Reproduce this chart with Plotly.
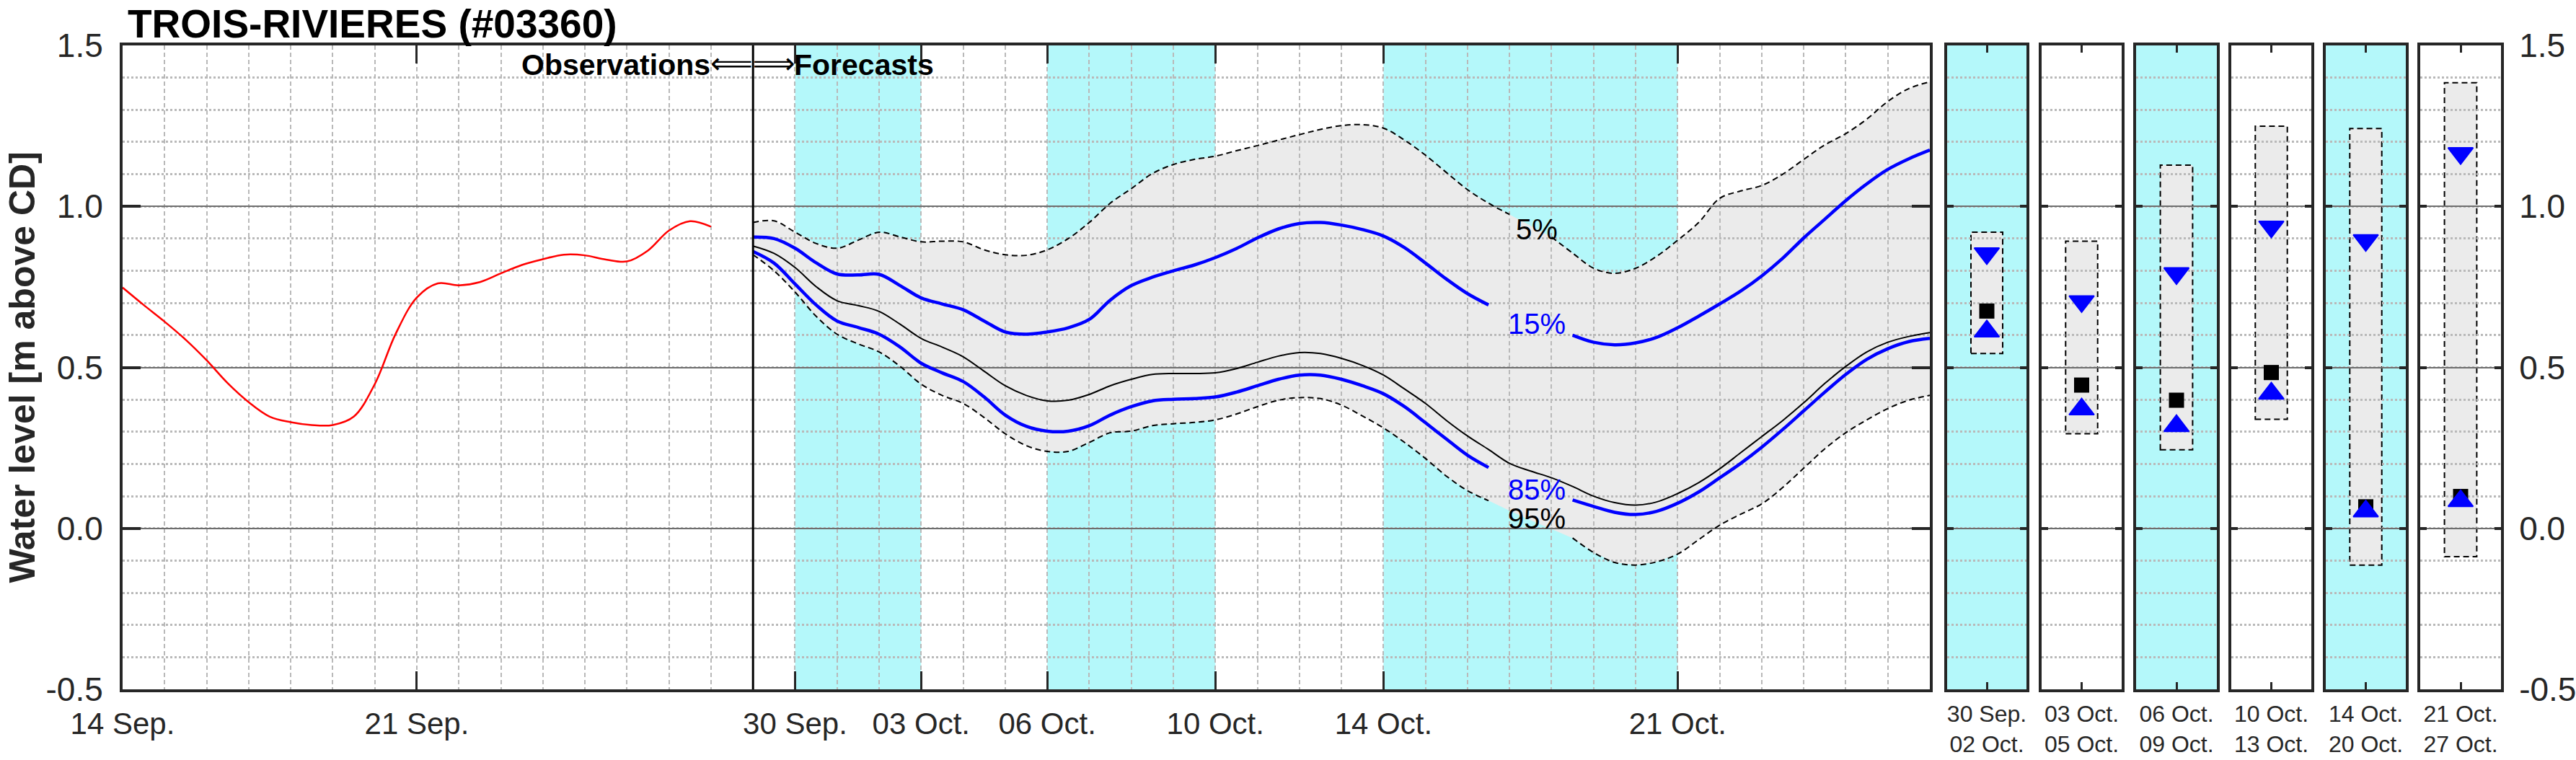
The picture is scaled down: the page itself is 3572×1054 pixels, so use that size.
import pandas as pd
import plotly.graph_objects as go

W, H = 3572, 1054
FONT = "Liberation Sans, Arial, Helvetica, sans-serif"
INK = "#262626"
CYAN = "#b4f8fa"
BAND = "#ebebeb"
GRID_MINOR = "#b9b9b9"
GRID_MAJOR = "#6e6e6e"
BLUE = "#0000ff"

# ---------------- data ----------------
obs_start = "2024-09-14 00:00"          # 12-hourly observations
obs_level = [0.748, 0.694, 0.642, 0.586, 0.522, 0.451, 0.392, 0.347, 0.330, 0.321,
             0.321, 0.347, 0.448, 0.605, 0.717, 0.761, 0.755, 0.765, 0.792, 0.818,
             0.836, 0.850, 0.848, 0.835, 0.829, 0.863, 0.925, 0.954, 0.937]

fc_start = "2024-09-29 00:00"           # 12-hourly forecast percentiles
fc_q05 = [0.950, 0.955, 0.920, 0.885, 0.870, 0.895, 0.920, 0.905, 0.890, 0.892,
          0.890, 0.865, 0.850, 0.848, 0.865, 0.900, 0.950, 1.010, 1.055, 1.102,
          1.130, 1.146, 1.156, 1.173, 1.189, 1.206, 1.223, 1.239, 1.251, 1.254,
          1.243, 1.206, 1.159, 1.105, 1.052, 1.010, 0.975, 0.940, 0.905, 0.855,
          0.808, 0.792, 0.808, 0.845, 0.895, 0.950, 1.025, 1.048, 1.065, 1.100,
          1.146, 1.191, 1.226, 1.271, 1.326, 1.366, 1.387]
fc_q15 = [0.905, 0.900, 0.870, 0.825, 0.790, 0.787, 0.789, 0.754, 0.716, 0.697,
          0.679, 0.644, 0.610, 0.603, 0.610, 0.623, 0.649, 0.709, 0.754, 0.780,
          0.800, 0.818, 0.841, 0.869, 0.902, 0.930, 0.947, 0.950, 0.942, 0.928,
          0.908, 0.872, 0.824, 0.774, 0.729, 0.694, 0.660, 0.630, 0.610, 0.600,
          0.578, 0.570, 0.576, 0.593, 0.623, 0.659, 0.697, 0.737, 0.784, 0.839,
          0.902, 0.960, 1.018, 1.070, 1.115, 1.148, 1.175]
fc_q50 = [0.877, 0.854, 0.810, 0.751, 0.707, 0.692, 0.674, 0.634, 0.590, 0.563,
          0.533, 0.488, 0.443, 0.413, 0.396, 0.398, 0.416, 0.443, 0.463, 0.478,
          0.481, 0.481, 0.483, 0.496, 0.516, 0.535, 0.546, 0.543, 0.528, 0.506,
          0.476, 0.433, 0.388, 0.335, 0.287, 0.245, 0.202, 0.178, 0.157, 0.130,
          0.100, 0.080, 0.072, 0.082, 0.108, 0.142, 0.185, 0.235, 0.285, 0.335,
          0.390, 0.450, 0.503, 0.548, 0.578, 0.596, 0.608]
fc_q85 = [0.860, 0.824, 0.759, 0.694, 0.644, 0.624, 0.603, 0.563, 0.513, 0.483,
          0.456, 0.408, 0.352, 0.317, 0.302, 0.302, 0.319, 0.352, 0.378, 0.396,
          0.401, 0.403, 0.408, 0.423, 0.443, 0.463, 0.476, 0.476, 0.463, 0.443,
          0.418, 0.378, 0.328, 0.277, 0.227, 0.189, 0.150, 0.120, 0.100, 0.088,
          0.068, 0.050, 0.043, 0.053, 0.078, 0.113, 0.157, 0.202, 0.252, 0.307,
          0.365, 0.423, 0.478, 0.525, 0.558, 0.580, 0.590]
fc_q95 = [0.850, 0.800, 0.734, 0.659, 0.603, 0.573, 0.548, 0.503, 0.448, 0.413,
          0.388, 0.344, 0.294, 0.257, 0.239, 0.239, 0.267, 0.297, 0.302, 0.319,
          0.325, 0.329, 0.337, 0.355, 0.378, 0.398, 0.406, 0.403, 0.383, 0.349,
          0.312, 0.267, 0.217, 0.162, 0.117, 0.086, 0.055, 0.025, -0.002, -0.030,
          -0.075, -0.106, -0.114, -0.104, -0.080, -0.035, 0.010, 0.044, 0.076, 0.127,
          0.187, 0.247, 0.297, 0.337, 0.372, 0.398, 0.413]

main_tick_dates = ["2024-09-14", "2024-09-21", "2024-09-30", "2024-10-03",
                   "2024-10-06", "2024-10-10", "2024-10-14", "2024-10-21"]
main_tick_text = ["14 Sep.", "21 Sep.", "30 Sep.", "03 Oct.",
                  "06 Oct.", "10 Oct.", "14 Oct.", "21 Oct."]
shaded_periods = [("2024-09-30", "2024-10-03"), ("2024-10-06", "2024-10-10"),
                  ("2024-10-14", "2024-10-21")]
forecast_origin = "2024-09-29"
x_range = ["2024-09-14", "2024-10-27"]

y_ticks = [-0.5, 0.0, 0.5, 1.0, 1.5]
y_tick_text = ["-0.5", "0.0", "0.5", "1.0", "1.5"]

pct_label_time = "2024-10-17 15:30"
pct_labels = ["5%", "15%", "85%", "95%"]
pct_label_y = [0.93, 0.635, 0.12, 0.03]

panel_labels = ["30 Sep.<br>02 Oct.", "03 Oct.<br>05 Oct.", "06 Oct.<br>09 Oct.",
                "10 Oct.<br>13 Oct.", "14 Oct.<br>20 Oct.", "21 Oct.<br>27 Oct."]
panel_shaded = [True, False, True, False, True, False]
panel_hi = [0.920, 0.892, 1.128, 1.249, 1.242, 1.384]
panel_lo = [0.543, 0.294, 0.244, 0.339, -0.114, -0.088]
panel_q15 = [0.854, 0.705, 0.792, 0.937, 0.895, 1.165]
panel_med = [0.675, 0.445, 0.398, 0.484, 0.067, 0.099]
panel_q85 = [0.612, 0.370, 0.318, 0.419, 0.053, 0.085]

# ---------------- helpers ----------------
obs_time = pd.date_range(obs_start, periods=len(obs_level), freq="12h")
fc_time = pd.date_range(fc_start, periods=len(fc_q05), freq="12h")
lbl_t = pd.Timestamp(pct_label_time)


def gapped(vals, half_days):
    out = []
    for t, v in zip(fc_time, vals):
        d = abs((t - lbl_t).total_seconds()) / 86400.0
        out.append(None if d < half_days else v)
    return out


# layout geometry (pixels)
Y_TOP, Y_BOT = 63, 956
ydom = [(H - Y_BOT) / H, (H - Y_TOP) / H]
main_x = (170, 2676)
panel_px = [(2700, 2810), (2831, 2942), (2962, 3074), (3094, 3205), (3225, 3336), (3356, 3468)]

fig = go.Figure()

# observations
fig.add_trace(go.Scatter(x=obs_time, y=obs_level, mode="lines",
                         line=dict(color="#ff0000", width=2.5, shape="spline"),
                         xaxis="x", yaxis="y", hoverinfo="skip"))
# envelope dashed
for vals, hw in ((fc_q05, 0.3), (fc_q95, 0.8)):
    fig.add_trace(go.Scatter(x=fc_time, y=gapped(vals, hw), mode="lines",
                             line=dict(color="black", width=2, dash="8px,5px", shape="spline"),
                             connectgaps=False, xaxis="x", yaxis="y", hoverinfo="skip"))
# median
fig.add_trace(go.Scatter(x=fc_time, y=fc_q50, mode="lines",
                         line=dict(color="black", width=2, shape="spline"),
                         xaxis="x", yaxis="y", hoverinfo="skip"))
# 15 / 85 %
for vals in (fc_q15, fc_q85):
    fig.add_trace(go.Scatter(x=fc_time, y=gapped(vals, 0.8), mode="lines",
                             line=dict(color=BLUE, width=4.5, shape="spline"),
                             connectgaps=False, xaxis="x", yaxis="y", hoverinfo="skip"))

shapes = []
for a, b in shaded_periods:
    shapes.append(dict(type="rect", xref="x", yref="y domain", x0=a, x1=b, y0=0, y1=1,
                       fillcolor=CYAN, line=dict(width=0), layer="below"))
ms = [int(t.value // 10**6) for t in fc_time]
pts = list(zip(ms, fc_q05)) + list(zip(ms[::-1], fc_q95[::-1]))
path = "M " + " L ".join(f"{x},{y}" for x, y in pts) + " Z"
shapes.append(dict(type="path", xref="x", yref="y", path=path, fillcolor=BAND,
                   line=dict(width=0), layer="below"))
shapes.append(dict(type="line", xref="x", yref="y domain", x0=forecast_origin, x1=forecast_origin,
                   y0=0, y1=1, line=dict(color="black", width=3), layer="above"))

layout = dict(
    width=W, height=H, margin=dict(l=0, r=0, t=0, b=0, pad=0, autoexpand=False),
    paper_bgcolor="white", plot_bgcolor="white", showlegend=False,
    font=dict(family=FONT, color=INK),
)

layout["xaxis"] = dict(
    domain=[main_x[0] / W, main_x[1] / W], type="date", range=x_range, anchor="y",
    automargin=False,
    tickmode="array", tickvals=main_tick_dates, ticktext=main_tick_text,
    ticks="inside", ticklen=25, tickwidth=3, tickcolor=INK, mirror="allticks",
    showline=True, linewidth=4, linecolor=INK, zeroline=False,
    showgrid=True, gridcolor=GRID_MINOR, gridwidth=2, griddash="6px,4px",
    minor=dict(tick0="2024-09-14", dtick=86400000, showgrid=True, gridcolor=GRID_MINOR,
               gridwidth=2, griddash="6px,4px", ticks=""),
    tickfont=dict(size=42, family=FONT, color=INK), ticklabelstandoff=8,
)
ycommon = dict(
    domain=ydom, range=[-0.5, 1.5], tickmode="array", tickvals=y_ticks, ticktext=y_tick_text,
    automargin=False,
    ticks="inside", tickwidth=4, tickcolor=INK, mirror="allticks",
    showline=True, linewidth=4, linecolor=INK, zeroline=False,
    showgrid=True, gridcolor=GRID_MAJOR, gridwidth=2,
    minor=dict(tick0=0, dtick=0.1, showgrid=True, gridcolor=GRID_MINOR, gridwidth=2.5,
               griddash="3px,3px", ticks=""),
    tickfont=dict(size=46, family=FONT, color=INK),
)
layout["yaxis"] = dict(ycommon, anchor="x", ticklen=25, ticklabelstandoff=14)

for i, (px0, px1) in enumerate(panel_px):
    k = i + 2
    layout[f"xaxis{k}"] = dict(
        domain=[px0 / W, px1 / W], range=[0, 1], anchor=f"y{k}", automargin=False,
        tickmode="array", tickvals=[0.5], ticktext=[panel_labels[i]],
        ticks="inside", ticklen=10, tickwidth=3, tickcolor=INK, mirror="allticks",
        showline=True, linewidth=4, linecolor=INK, zeroline=False, showgrid=False,
        tickfont=dict(size=32, family=FONT, color=INK), ticklabelstandoff=3,
    )
    last = (i == len(panel_px) - 1)
    layout[f"yaxis{k}"] = dict(ycommon, anchor=f"x{k}", ticklen=9,
                               showticklabels=last, side="right" if last else "left",
                               ticklabelstandoff=12)
    if panel_shaded[i]:
        shapes.append(dict(type="rect", xref=f"x{k} domain", yref=f"y{k} domain",
                           x0=0, x1=1, y0=0, y1=1, fillcolor=CYAN, line=dict(width=0),
                           layer="below"))
    shapes.append(dict(type="rect", xref=f"x{k}", yref=f"y{k}", x0=0.3, x1=0.7,
                       y0=panel_lo[i], y1=panel_hi[i], fillcolor=BAND,
                       line=dict(color="black", width=2, dash="8px,5px"), layer="below"))
    fig.add_trace(go.Scatter(x=[0.5], y=[panel_med[i]], mode="markers",
                             marker=dict(symbol="square", size=21, color="black"),
                             xaxis=f"x{k}", yaxis=f"y{k}", hoverinfo="skip"))
    fig.add_trace(go.Scatter(x=[0.5], y=[panel_q15[i]], mode="markers",
                             marker=dict(symbol="triangle-down", size=30, color=BLUE,
                                         line=dict(color=BLUE, width=2)),
                             xaxis=f"x{k}", yaxis=f"y{k}", hoverinfo="skip"))
    fig.add_trace(go.Scatter(x=[0.5], y=[panel_q85[i]], mode="markers",
                             marker=dict(symbol="triangle-up", size=30, color=BLUE,
                                         line=dict(color=BLUE, width=2)),
                             xaxis=f"x{k}", yaxis=f"y{k}", hoverinfo="skip"))

layout["shapes"] = shapes

ann = []
ann.append(dict(text="TROIS-RIVIERES (#03360)", xref="paper", yref="paper",
                x=175 / W, y=1.0, xanchor="left", yanchor="top", showarrow=False,
                font=dict(size=55, family=FONT, color="black", weight="bold")))
ann.append(dict(text="Water level [m above CD]", xref="paper", yref="paper",
                x=0.0, y=1 - 509.5 / H, xanchor="left", yanchor="middle", textangle=-90,
                showarrow=False, font=dict(size=50, family=FONT, color=INK, weight="bold")))
ann.append(dict(text="Observations", xref="x", yref="y", x=forecast_origin, y=1.44,
                xanchor="right", yanchor="middle", xshift=-57, showarrow=False,
                font=dict(size=41, family=FONT, color="black", weight="bold")))
ann.append(dict(text="⟸⟹", xref="x", yref="y", x=forecast_origin, y=1.445,
                xanchor="center", yanchor="middle", showarrow=False,
                font=dict(size=41, family="DejaVu Sans", color="black")))
ann.append(dict(text="Forecasts", xref="x", yref="y", x=forecast_origin, y=1.44,
                xanchor="left", yanchor="middle", xshift=55, showarrow=False,
                font=dict(size=41, family=FONT, color="black", weight="bold")))
pct_colors = ["black", BLUE, BLUE, "black"]
for txt, yy, c in zip(pct_labels, pct_label_y, pct_colors):
    ann.append(dict(text=txt, xref="x", yref="y", x=pct_label_time, y=yy,
                    xanchor="center", yanchor="middle", showarrow=False,
                    font=dict(size=40, family=FONT, color=c)))
layout["annotations"] = ann

fig.update_layout(**layout)
fig.write_html("out.html", config={"displayModeBar": False},
               post_script="document.body.style.margin='0';document.body.style.overflow='hidden';")
